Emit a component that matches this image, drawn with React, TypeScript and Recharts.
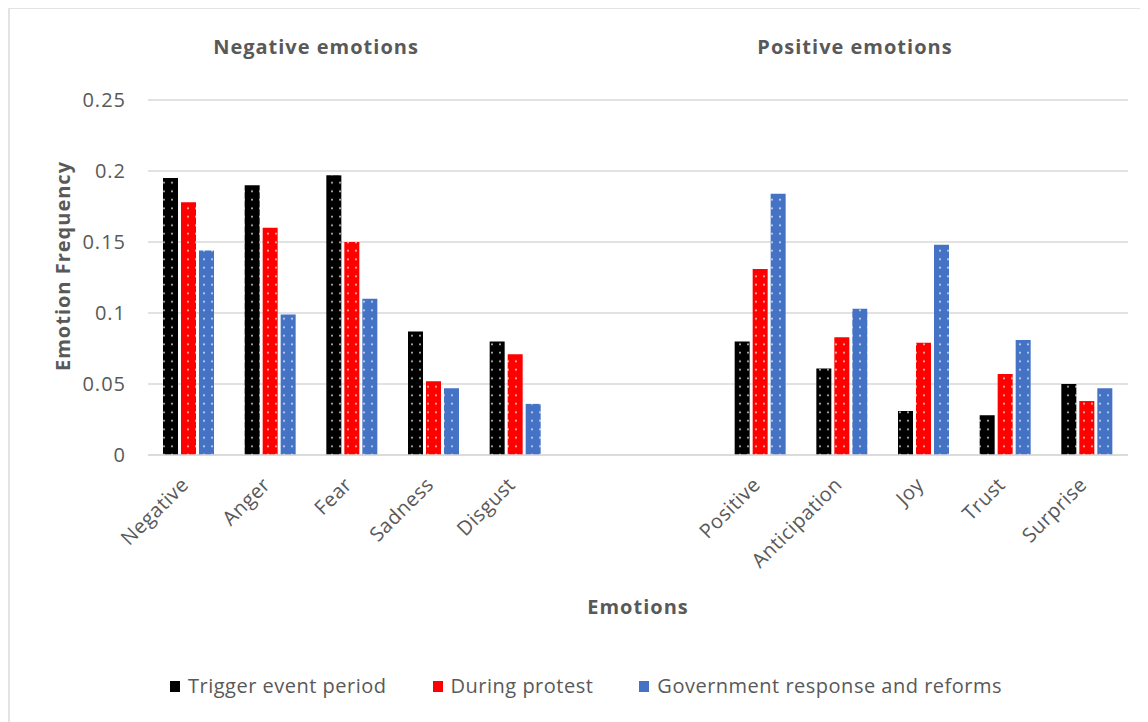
import React from 'react';
import { BarChart, Bar, XAxis, YAxis, CartesianGrid } from 'recharts';

const categories = ['Negative', 'Anger', 'Fear', 'Sadness', 'Disgust', '', '', 'Positive', 'Anticipation', 'Joy', 'Trust', 'Surprise'];
const triggerEvent = [0.195, 0.19, 0.197, 0.087, 0.08, null, null, 0.08, 0.061, 0.031, 0.028, 0.05];
const duringProtest = [0.178, 0.16, 0.15, 0.052, 0.071, null, null, 0.131, 0.083, 0.079, 0.057, 0.038];
const govResponse = [0.144, 0.099, 0.11, 0.047, 0.036, null, null, 0.184, 0.103, 0.148, 0.081, 0.047];
const yTicks = [0, 0.05, 0.1, 0.15, 0.2, 0.25];

const seriesNames = ['Trigger event period', 'During protest', 'Government response and reforms'];
const seriesKeys = ['trigger', 'during', 'gov'];
const seriesColors = ['#000000', '#FF0000', '#4472C4'];

const data = categories.map((c, i) => ({
  name: c,
  trigger: triggerEvent[i],
  during: duringProtest[i],
  gov: govResponse[i],
}));

const FONT = '"Open Sans", "Noto Sans", sans-serif';
const TEXT = '#595959';

const XTick = (props: any) => {
  const { x, y, payload } = props;
  return (
    <g transform={`translate(${x + 1},${y + 23})`}>
      <text textAnchor="end" transform="rotate(-45)" fontSize={20} letterSpacing={0.5} fontFamily={FONT} fill={TEXT}>
        {payload.value}
      </text>
    </g>
  );
};

const YTick = (props: any) => {
  const { y, payload } = props;
  return (
    <text x={126} y={y} dy={7} textAnchor="end" fontSize={20} letterSpacing={1} fontFamily={FONT} fill={TEXT}>
      {String(payload.value)}
    </text>
  );
};

export default function App() {
  const titleStyle: React.CSSProperties = { position: 'absolute', width: 300, textAlign: 'center', fontSize: 20, lineHeight: '24px', fontWeight: 700, color: TEXT, letterSpacing: 1 };
  return (
    <div style={{ position: 'relative', width: 1148, height: 722, marginLeft: -8, marginTop: -8, background: '#fff', fontFamily: FONT }}>
      <div style={{ position: 'absolute', left: 8, top: 7, width: 1140, height: 715, borderTop: '2px solid #e3e3e3', borderLeft: '2px solid #e3e3e3', boxSizing: 'border-box' }} />
      <div style={{ position: 'absolute', left: 0, top: 0 }}>
        <BarChart width={1148} height={722} data={data} margin={{ top: 100, right: 20, bottom: 237, left: 88 }} barGap={3} barSize={15}>
          <defs>
            {seriesColors.map((c, i) => (
              <pattern key={i} id={`dots${i}`} patternUnits="userSpaceOnUse" width={8} height={8.5}>
                <rect width={8} height={8.5} fill={c} />
                <circle cx={4} cy={4.25} r={0.9} fill="#ffffff" opacity={0.9} />
              </pattern>
            ))}
          </defs>
          <CartesianGrid vertical={false} stroke="#d9d9d9" strokeWidth={1.5} />
          <XAxis dataKey="name" height={30} interval={0} axisLine={{ stroke: '#d9d9d9', strokeWidth: 1.5 }} tickLine={false} tick={<XTick />} />
          <YAxis width={60} domain={[0, 0.25]} ticks={yTicks} axisLine={false} tickLine={false} tick={<YTick />} />
          {seriesKeys.map((k, i) => (
            <Bar key={k} dataKey={k} name={seriesNames[i]} fill={`url(#dots${i})`} isAnimationActive={false} />
          ))}
        </BarChart>
      </div>
      <div style={{ ...titleStyle, left: 166, top: 35 }}>Negative emotions</div>
      <div style={{ ...titleStyle, left: 705, top: 35 }}>Positive emotions</div>
      <div style={{ ...titleStyle, left: 63 - 150, top: 266 - 12, height: 24, transform: 'rotate(-90deg)' }}>Emotion Frequency</div>
      <div style={{ ...titleStyle, left: 638 - 150, top: 607 - 12 }}>Emotions</div>
      <div style={{ position: 'absolute', left: 170, top: 674, height: 24, display: 'flex', alignItems: 'center', gap: 46 }}>
        {seriesNames.map((n, i) => (
          <div key={n} style={{ display: 'flex', alignItems: 'center' }}>
            <div style={{ width: 10, height: 11, background: seriesColors[i], marginRight: 8 }} />
            <span style={{ fontSize: 20, lineHeight: '24px', color: TEXT, letterSpacing: 0.5 }}>{n}</span>
          </div>
        ))}
      </div>
    </div>
  );
}
